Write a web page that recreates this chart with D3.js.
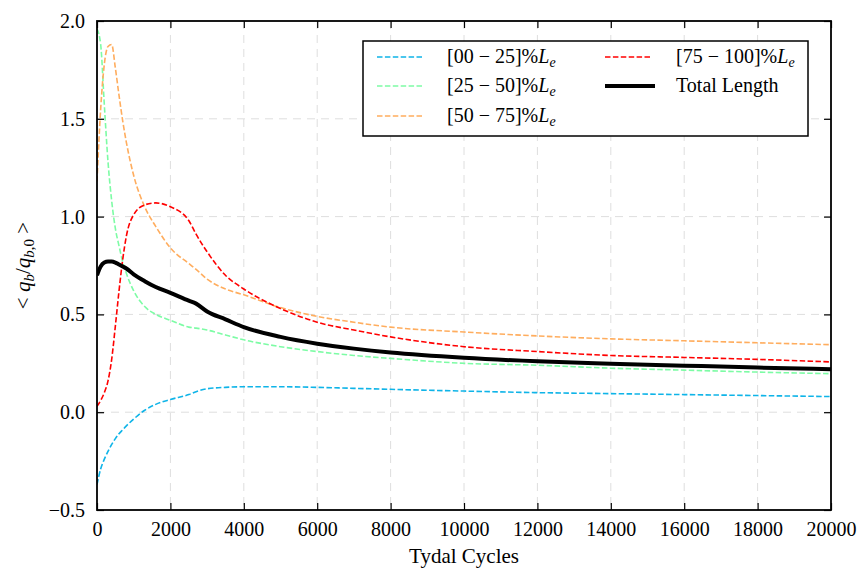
<!DOCTYPE html>
<html>
<head>
<meta charset="utf-8">
<script src="https://cdn.jsdelivr.net/npm/d3@7"></script>
<style>
  html, body { margin: 0; padding: 0; background: #fff; }
  svg { display: block; }
  svg text { font-family: "Liberation Serif", "Times New Roman", serif; }
</style>
</head>
<body>
<svg id="chart" width="859" height="572"></svg>
<script>
// ---------------- data ----------------
const cycles = [0, 100, 200, 300, 400, 500, 600, 700, 800, 1000, 1300, 1600, 2000, 2500, 2700, 3000, 3500, 4000, 5000, 6000, 7000, 8000, 10000, 12000, 14000, 16000, 18000, 20000];
const seg00_25  = [-0.37, -0.29, -0.24, -0.20, -0.165, -0.135, -0.11, -0.09, -0.07, -0.035, 0.01, 0.04, 0.065, 0.09, 0.105, 0.12, 0.127, 0.13, 0.13, 0.127, 0.122, 0.117, 0.108, 0.10, 0.095, 0.09, 0.085, 0.08];
const seg25_50  = [1.96, 1.88, 1.57, 1.28, 1.08, 0.94, 0.85, 0.77, 0.71, 0.62, 0.54, 0.50, 0.47, 0.435, 0.43, 0.42, 0.395, 0.37, 0.335, 0.31, 0.29, 0.275, 0.25, 0.24, 0.225, 0.215, 0.205, 0.197];
const seg50_75  = [1.18, 1.55, 1.78, 1.87, 1.88, 1.76, 1.62, 1.49, 1.38, 1.21, 1.05, 0.95, 0.84, 0.76, 0.73, 0.68, 0.63, 0.60, 0.535, 0.49, 0.46, 0.435, 0.41, 0.39, 0.375, 0.365, 0.355, 0.345];
const seg75_100 = [0.03, 0.06, 0.10, 0.16, 0.27, 0.44, 0.62, 0.78, 0.90, 1.01, 1.06, 1.07, 1.05, 0.98, 0.91, 0.82, 0.70, 0.63, 0.53, 0.46, 0.42, 0.385, 0.335, 0.31, 0.29, 0.28, 0.27, 0.257];
const totalLen  = [0.70, 0.745, 0.765, 0.77, 0.77, 0.765, 0.755, 0.745, 0.735, 0.705, 0.67, 0.64, 0.61, 0.57, 0.555, 0.515, 0.475, 0.435, 0.385, 0.35, 0.325, 0.305, 0.278, 0.26, 0.248, 0.238, 0.228, 0.22];

const seriesNames  = ["[00 \u2212 25]%", "[25 \u2212 50]%", "[50 \u2212 75]%", "[75 \u2212 100]%", "Total Length"];
const seriesColors = ["#0fb4e8", "#7dfca5", "#ffad5e", "#ff0000", "#000000"];
const xTicks = [0, 2000, 4000, 6000, 8000, 10000, 12000, 14000, 16000, 18000, 20000];
const yTicks = [-0.5, 0.0, 0.5, 1.0, 1.5, 2.0];

const seriesValues = [seg00_25, seg25_50, seg50_75, seg75_100, totalLen];

// ---------------- layout ----------------
const W = 859, H = 572;
const margin = {left: 97, right: 28, top: 21, bottom: 62};
const pw = W - margin.left - margin.right;
const ph = H - margin.top - margin.bottom;

const svg = d3.select("#chart");
const g = svg.append("g").attr("transform", `translate(${margin.left},${margin.top})`);

const x = d3.scaleLinear().domain([0, 20000]).range([0, pw]);
const y = d3.scaleLinear().domain([-0.5, 2.0]).range([ph, 0]);

// grid
g.append("g").selectAll("line.vg").data(xTicks.slice(1, -1)).join("line")
  .attr("x1", d => x(d)).attr("x2", d => x(d)).attr("y1", 0).attr("y2", ph)
  .attr("stroke", "#dedede").attr("stroke-width", 1).attr("stroke-dasharray", "8,6");
g.append("g").selectAll("line.hg").data(yTicks.slice(1, -1)).join("line")
  .attr("y1", d => y(d)).attr("y2", d => y(d)).attr("x1", 0).attr("x2", pw)
  .attr("stroke", "#dedede").attr("stroke-width", 1).attr("stroke-dasharray", "8,6");

// clip
svg.append("defs").append("clipPath").attr("id", "clip")
  .append("rect").attr("x", 0).attr("y", 0).attr("width", pw).attr("height", ph);

const line = d3.line().x((d, i) => x(cycles[i])).y(d => y(d)).curve(d3.curveMonotoneX);

const plot = g.append("g").attr("clip-path", "url(#clip)");
seriesValues.forEach((vals, k) => {
  const isTotal = k === 4;
  plot.append("path").datum(vals)
    .attr("fill", "none")
    .attr("stroke", seriesColors[k])
    .attr("stroke-width", isTotal ? 4 : 1.6)
    .attr("stroke-dasharray", isTotal ? null : "5.5,2.4")
    .attr("stroke-linejoin", "round")
    .attr("d", line);
});

// axes (ticks inward)
const tickLen = 7;
const xAxisB = d3.axisBottom(x).tickValues(xTicks).tickSize(-tickLen).tickPadding(12).tickFormat(d3.format("d"));
const xAxisT = d3.axisTop(x).tickValues(xTicks).tickSize(-tickLen).tickFormat("");
const yAxisL = d3.axisLeft(y).tickValues(yTicks).tickSize(-tickLen).tickPadding(12).tickFormat(d => d3.format(".1f")(d).replace("-", "\u2212"));
const yAxisR = d3.axisRight(y).tickValues(yTicks).tickSize(-tickLen).tickFormat("");

function styleAxis(sel) {
  sel.attr("font-family", null).attr("font-size", null);
  sel.select(".domain").remove();
  sel.selectAll(".tick line").attr("stroke", "#000").attr("stroke-width", 1.2);
  sel.selectAll(".tick text").attr("fill", "#000").style("font-size", "20px");
}
g.append("g").attr("transform", `translate(0,${ph})`).call(xAxisB).call(styleAxis);
g.append("g").call(xAxisT).call(styleAxis);
g.append("g").call(yAxisL).call(styleAxis);
g.append("g").attr("transform", `translate(${pw},0)`).call(yAxisR).call(styleAxis);

// frame
g.append("rect").attr("x", 0).attr("y", 0).attr("width", pw).attr("height", ph)
  .attr("fill", "none").attr("stroke", "#000").attr("stroke-width", 1.8);

// axis labels
svg.append("text").attr("x", margin.left + pw / 2).attr("y", 563)
  .attr("text-anchor", "middle").style("font-size", "21px").text("Tydal Cycles");

const yl = svg.append("text")
  .attr("transform", `translate(30,${margin.top + ph / 2}) rotate(-90)`)
  .attr("text-anchor", "middle").style("font-size", "21px");
yl.append("tspan").text("< ");
yl.append("tspan").style("font-style", "italic").text("q");
yl.append("tspan").style("font-style", "italic").style("font-size", "15px").attr("dy", 4).text("b");
yl.append("tspan").attr("dy", -4).text("/");
yl.append("tspan").style("font-style", "italic").text("q");
yl.append("tspan").style("font-style", "italic").style("font-size", "15px").attr("dy", 4).text("b");
yl.append("tspan").style("font-size", "15px").text(",0");
yl.append("tspan").attr("dy", -4).text(" >");

// legend
const leg = svg.append("g");
leg.append("rect").attr("x", 363).attr("y", 41).attr("width", 445).attr("height", 95)
  .attr("fill", "#fff").attr("stroke", "#000").attr("stroke-width", 1.5);
const legPos = [
  {lx: 377, tx: 447, y: 57},
  {lx: 377, tx: 447, y: 86},
  {lx: 377, tx: 447, y: 116},
  {lx: 605, tx: 676, y: 57},
  {lx: 605, tx: 676, y: 86}
];
seriesNames.forEach((name, k) => {
  const p = legPos[k];
  const isTotal = k === 4;
  leg.append("line").attr("x1", p.lx).attr("x2", p.lx + (isTotal ? 50 : 46)).attr("y1", p.y).attr("y2", p.y)
    .attr("stroke", seriesColors[k]).attr("stroke-width", isTotal ? 4 : 1.6)
    .attr("stroke-dasharray", isTotal ? null : "5.5,2.4");
  const t = leg.append("text").attr("x", p.tx).attr("y", p.y + 6).style("font-size", "20px");
  t.append("tspan").text(name);
  if (!isTotal) {
    t.append("tspan").style("font-style", "italic").text("L");
    t.append("tspan").style("font-style", "italic").style("font-size", "14px").attr("dy", 4).text("e");
  }
});
</script>
</body>
</html>
